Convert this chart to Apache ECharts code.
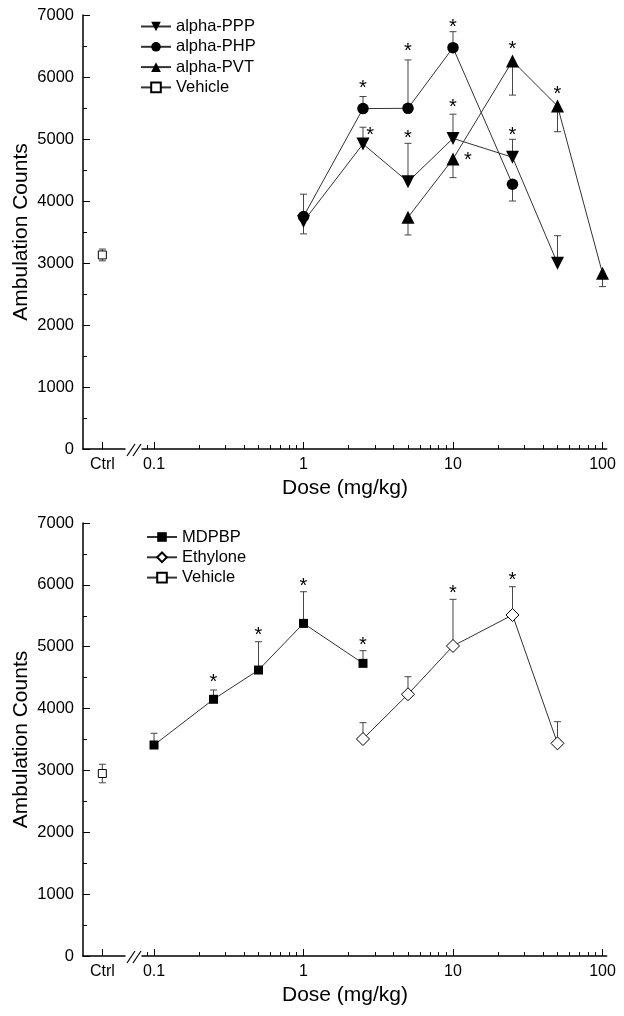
<!DOCTYPE html>
<html>
<head>
<meta charset="utf-8">
<script src="https://cdn.jsdelivr.net/npm/echarts@6/dist/echarts.min.js"></script>
<style>html,body{margin:0;padding:0;background:#fff;}#c{width:624px;height:1016px;}</style>
</head>
<body>
<div id="c"></div>
<script>
// ---------- data ----------
const ctrlLabel = 'Ctrl';
const ctrlPos = 0.46;
const majorTicks = [0.1, 1, 10, 100];
const minorTicks = [0.09, 0.2, 0.3, 0.4, 0.5, 0.6, 0.7, 0.8, 0.9, 2, 3, 4, 5, 6, 7, 8, 9, 20, 30, 40, 50, 60, 70, 80, 90];
const yMin = 0, yMax = 7000, yStep = 1000;

// Panel A
const pppDose = [1, 2.5, 5, 10, 25, 50];
const pppMean = [3670, 4920, 4310, 5010, 4705, 2995];
const pppErr  = [200, 270, 620, 390, 290, 445];
const pppDir  = [-1, 1, 1, 1, 1, 1];

const phpDose = [1, 2.5, 5, 10, 25];
const phpMean = [3750, 5490, 5495, 6473, 4270];
const phpErr  = [360, 195, 780, 258, 270];
const phpDir  = [1, 1, 1, 1, -1];

const pvtDose = [5, 10, 25, 50, 100];
const pvtMean = [3737, 4677, 6258, 5532, 2834];
const pvtErr  = [285, 300, 550, 415, 215];
const pvtDir  = [-1, -1, -1, -1, -1];

const vehAMean = 3130, vehAErr = 95;
const starsA = [[2.5, 5887], [5, 6473], [10, 6871], [25, 6516], [50, 5790],
                [2.79, 5118], [5, 5065], [10, 5565], [25, 5129], [12.6, 4726]];

// Panel B
const mdpDose = [0.1, 0.25, 0.5, 1, 2.5];
const mdpMean = [3411, 4150, 4623, 5377, 4731];
const mdpErr  = [190, 150, 458, 512, 205];
const mdpDir  = [1, 1, 1, 1, 1];

const ethDose = [2.5, 5, 10, 25, 50];
const ethMean = [3508, 4231, 5012, 5513, 3438];
const ethErr  = [264, 284, 754, 457, 350];
const ethDir  = [1, 1, 1, 1, 1];

const vehBMean = 2950, vehBErr = 150;
const starsB = [[0.25, 4489], [0.5, 5254], [1, 6034], [2.5, 5081], [10, 5928], [25, 6143]];

// ---------- helpers ----------
const FONT = '"Liberation Sans", Arial, sans-serif';
const zip = (a, b) => a.map((x, i) => [x, b[i]]);
const errData = (d, m, e, dir) => d.map((x, i) => [x, m[i], m[i] + dir[i] * e[i]]);

const chart = echarts.init(document.getElementById('c'), null, {renderer: 'canvas'});

const panels = [
  {top: 15, height: 434},
  {top: 523, height: 433}
];
const ctrlLeft = 83, ctrlWidth = 42, logLeft = 142, logWidth = 464.7;
const logMin = 0.0831, logMax = 106.7;

const grid = [], xAxis = [], yAxis = [];
panels.forEach((p, k) => {
  grid.push({left: ctrlLeft, top: p.top, width: ctrlWidth, height: p.height});
  grid.push({left: logLeft, top: p.top, width: logWidth, height: p.height});
  const gC = 2 * k, gL = 2 * k + 1;
  xAxis.push({
    type: 'value', gridIndex: gC, min: 0, max: 1,
    axisLine: {show: true, onZero: false, lineStyle: {color: '#000', width: 1.5}},
    axisTick: {show: true, inside: true, length: 7, customValues: [ctrlPos], lineStyle: {color: '#000', width: 1}},
    axisLabel: {show: true, customValues: [ctrlPos], formatter: () => ctrlLabel, color: '#000', fontSize: 16, fontFamily: FONT, margin: 8},
    splitLine: {show: false}
  });
  xAxis.push({
    type: 'log', logBase: 10, gridIndex: gL, min: logMin, max: logMax, position: 'bottom',
    axisLine: {show: true, onZero: false, lineStyle: {color: '#000', width: 1.5}},
    axisTick: {show: true, inside: true, length: 7, customValues: majorTicks, lineStyle: {color: '#000', width: 1}},
    axisLabel: {show: true, customValues: majorTicks, formatter: v => String(+(+v).toPrecision(3)), color: '#000', fontSize: 16, fontFamily: FONT, margin: 8},
    splitLine: {show: false}
  });
  xAxis.push({
    type: 'log', logBase: 10, gridIndex: gL, min: logMin, max: logMax, position: 'bottom',
    axisLine: {show: false, onZero: false},
    axisTick: {show: true, inside: true, length: 4, customValues: minorTicks, lineStyle: {color: '#000', width: 1}},
    axisLabel: {show: false},
    splitLine: {show: false}
  });
  yAxis.push({
    type: 'value', gridIndex: gC, min: yMin, max: yMax, interval: yStep,
    name: 'Ambulation Counts', nameLocation: 'middle', nameGap: 51,
    nameTextStyle: {color: '#000', fontSize: 21, fontFamily: FONT},
    axisLine: {show: true, lineStyle: {color: '#000', width: 1.5}},
    axisTick: {show: true, inside: true, length: 7, lineStyle: {color: '#000', width: 1}},
    minorTick: {show: true, splitNumber: 2, length: 4, lineStyle: {color: '#000', width: 1}},
    axisLabel: {color: '#000', fontSize: 16.5, fontFamily: FONT, margin: 9, formatter: v => String(v)},
    splitLine: {show: false}
  });
  yAxis.push({
    type: 'value', gridIndex: gL, min: yMin, max: yMax, interval: yStep, show: false
  });
});

const LINE = {color: '#333', width: 1};
function lineSeries(name, xi, yi, data, symbol, size, opts) {
  return Object.assign({
    type: 'line', name, xAxisIndex: xi, yAxisIndex: yi, data,
    symbol, symbolSize: size, showSymbol: true,
    itemStyle: {color: '#000'}, lineStyle: LINE, z: 5, animation: false
  }, opts || {});
}
function errSeries(xi, yi, data) {
  return {
    type: 'custom', xAxisIndex: xi, yAxisIndex: yi, data, z: 2, animation: false, silent: true,
    encode: {x: 0, y: [1, 2]},
    renderItem: (params, api) => {
      const a = api.coord([api.value(0), api.value(1)]);
      const b = api.coord([api.value(0), api.value(2)]);
      return {type: 'group', children: [
        {type: 'line', shape: {x1: a[0], y1: a[1], x2: b[0], y2: b[1]}, style: {stroke: '#444', lineWidth: 1}},
        {type: 'line', shape: {x1: b[0] - 3.5, y1: b[1], x2: b[0] + 3.5, y2: b[1]}, style: {stroke: '#444', lineWidth: 1}}
      ]};
    }
  };
}
function starSeries(xi, yi, data) {
  return {
    type: 'custom', xAxisIndex: xi, yAxisIndex: yi, data, z: 6, animation: false, silent: true,
    encode: {x: 0, y: 1},
    renderItem: (params, api) => {
      const p = api.coord([api.value(0), api.value(1)]);
      return {type: 'text', x: p[0], y: p[1] + 4,
        style: {text: '*', fontSize: 20, fontFamily: FONT, fill: '#000', align: 'center', verticalAlign: 'middle'}};
    }
  };
}
const vehStyle = {itemStyle: {color: '#fff', borderColor: '#000', borderWidth: 1}};

const series = [
  // Panel A
  errSeries(1, 1, errData(pppDose, pppMean, pppErr, pppDir)),
  errSeries(1, 1, errData(phpDose, phpMean, phpErr, phpDir)),
  errSeries(1, 1, errData(pvtDose, pvtMean, pvtErr, pvtDir)),
  errSeries(0, 0, [[ctrlPos, vehAMean, vehAMean + vehAErr], [ctrlPos, vehAMean, vehAMean - vehAErr]]),
  lineSeries('alpha-PPP', 1, 1, zip(pppDose, pppMean), 'triangle', 13, {symbolRotate: 180}),
  lineSeries('alpha-PHP', 1, 1, zip(phpDose, phpMean), 'circle', 11.5),
  lineSeries('alpha-PVT', 1, 1, zip(pvtDose, pvtMean), 'triangle', 13),
  lineSeries('Vehicle', 0, 0, [[ctrlPos, vehAMean]], 'rect', 8, vehStyle),
  starSeries(1, 1, starsA),
  // Panel B
  errSeries(4, 3, errData(mdpDose, mdpMean, mdpErr, mdpDir)),
  errSeries(4, 3, errData(ethDose, ethMean, ethErr, ethDir)),
  errSeries(3, 2, [[ctrlPos, vehBMean, vehBMean + vehBErr], [ctrlPos, vehBMean, vehBMean - vehBErr]]),
  lineSeries('MDPBP', 4, 3, zip(mdpDose, mdpMean), 'rect', 9),
  lineSeries('Ethylone', 4, 3, zip(ethDose, ethMean), 'diamond', 13, vehStyle),
  lineSeries('Vehicle', 3, 2, [[ctrlPos, vehBMean]], 'rect', 8, vehStyle),
  starSeries(4, 3, starsB)
];

const legendBase = {
  orient: 'vertical', itemWidth: 30, itemHeight: 12, itemGap: 3.3, padding: 0,
  textStyle: {color: '#000', fontSize: 16.5, fontFamily: FONT}, selectedMode: false
};

function breakMarks(yAxisLine) {
  return [
    {type: 'line', shape: {x1: 127, y1: yAxisLine + 7, x2: 135, y2: yAxisLine - 5}, style: {stroke: '#000', lineWidth: 1.2}},
    {type: 'line', shape: {x1: 133, y1: yAxisLine + 7, x2: 141, y2: yAxisLine - 5}, style: {stroke: '#000', lineWidth: 1.2}}
  ];
}

chart.setOption({
  animation: false,
  backgroundColor: '#fff',
  grid, xAxis, yAxis, series,
  legend: [
    Object.assign({left: 140, top: 18, data: ['alpha-PPP', 'alpha-PHP', 'alpha-PVT', 'Vehicle']}, legendBase),
    Object.assign({left: 146, top: 528.5, data: ['MDPBP', 'Ethylone', 'Vehicle']}, legendBase)
  ],
  graphic: [
    ...breakMarks(449),
    ...breakMarks(956),
    {type: 'text', x: 345, y: 488, style: {text: 'Dose (mg/kg)', fontSize: 21, fontFamily: FONT, fill: '#000', align: 'center', verticalAlign: 'middle'}},
    {type: 'text', x: 345, y: 995, style: {text: 'Dose (mg/kg)', fontSize: 21, fontFamily: FONT, fill: '#000', align: 'center', verticalAlign: 'middle'}}
  ]
});
</script>
</body>
</html>
